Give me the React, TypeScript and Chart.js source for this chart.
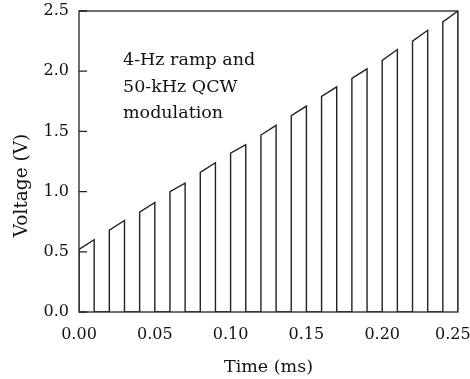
import React, { useEffect, useRef } from "react";
import { Chart, registerables } from "chart.js";

Chart.register(...registerables);

// Pulse data (time in ms, voltage in V)
const pulseStartTimes = [0.0, 0.02, 0.04, 0.06, 0.08, 0.1, 0.12, 0.14, 0.16, 0.18, 0.2, 0.22, 0.24];
const pulseEndTimes = [0.01, 0.03, 0.05, 0.07, 0.09, 0.11, 0.13, 0.15, 0.17, 0.19, 0.21, 0.23, 0.25];
const pulseStartVoltages = [0.52, 0.68, 0.83, 1.0, 1.16, 1.32, 1.47, 1.63, 1.79, 1.94, 2.09, 2.25, 2.41];
const pulseEndVoltages = [0.6, 0.76, 0.91, 1.07, 1.24, 1.39, 1.55, 1.71, 1.87, 2.02, 2.18, 2.34, 2.5];

const xTickValues = [0, 0.05, 0.1, 0.15, 0.2, 0.25];
const yTickValues = [0, 0.5, 1.0, 1.5, 2.0, 2.5];

const xTitle = "Time (ms)";
const yTitle = "Voltage (V)";
const annotationLines = ["4-Hz ramp and", "50-kHz QCW", "modulation"];

const FONT = "'DejaVu Serif', 'Liberation Serif', serif";
const INK = "#222222";

function buildPoints() {
  const pts: { x: number; y: number }[] = [];
  for (let i = 0; i < pulseStartTimes.length; i++) {
    pts.push({ x: pulseStartTimes[i], y: 0 });
    pts.push({ x: pulseStartTimes[i], y: pulseStartVoltages[i] });
    pts.push({ x: pulseEndTimes[i], y: pulseEndVoltages[i] });
    pts.push({ x: pulseEndTimes[i], y: 0 });
  }
  return pts;
}

const framePlugin = {
  id: "frameAndText",
  afterDraw(chart: any) {
    const { ctx, chartArea } = chart;
    const { left, right, top, bottom } = chartArea;
    const yScale = chart.scales.y;
    ctx.save();
    ctx.strokeStyle = INK;
    ctx.lineWidth = 1.3;
    ctx.strokeRect(left, top, right - left, bottom - top);
    // inward ticks on left axis
    ctx.beginPath();
    for (const v of yTickValues) {
      const py = yScale.getPixelForValue(v);
      ctx.moveTo(left, py);
      ctx.lineTo(left + 8, py);
    }
    ctx.stroke();

    // annotation text
    ctx.fillStyle = "#111";
    ctx.font = `17.5px ${FONT}`;
    ctx.textAlign = "left";
    ctx.textBaseline = "alphabetic";
    annotationLines.forEach((line, i) => {
      ctx.fillText(line, 123, 65 + i * 26.5);
    });

    // y-axis title
    ctx.translate(22, 185.5);
    ctx.rotate(-Math.PI / 2);
    ctx.textAlign = "center";
    ctx.textBaseline = "middle";
    ctx.font = `18.5px ${FONT}`;
    ctx.fillText(yTitle, 0, 0);
    ctx.restore();
  },
};

export default function App() {
  const canvasRef = useRef<HTMLCanvasElement | null>(null);

  useEffect(() => {
    document.body.style.margin = "0";
    const canvas = canvasRef.current;
    if (!canvas) return;
    const chart = new Chart(canvas, {
      type: "line",
      data: {
        datasets: [
          {
            data: buildPoints(),
            borderColor: INK,
            borderWidth: 1.4,
            pointRadius: 0,
            fill: false,
            tension: 0,
          },
        ],
      },
      options: {
        animation: false,
        responsive: false,
        maintainAspectRatio: false,
        layout: { padding: { left: 0, top: 11, right: 12, bottom: 0 } },
        plugins: {
          legend: { display: false },
          tooltip: { enabled: false },
        },
        scales: {
          x: {
            type: "linear",
            min: 0,
            max: 0.25,
            afterBuildTicks: (scale: any) => {
              scale.ticks = xTickValues.map((v) => ({ value: v }));
            },
            afterFit: (scale: any) => {
              scale.height = 67;
              scale.paddingLeft = 0;
              scale.paddingRight = 0;
            },
            grid: { display: false, drawTicks: false },
            border: { display: false },
            ticks: {
              padding: 13,
              color: "#111",
              font: { family: FONT, size: 16 },
              maxRotation: 0,
              callback: (v: any, i: number, ticks: any[]) => {
                const label = Number(v).toFixed(2);
                // keep the last label inside the canvas edge
                return i === ticks.length - 1 ? label + "\u00A0\u00A0" : label;
              },
            },
            title: {
              display: true,
              text: xTitle,
              color: "#111",
              font: { family: FONT, size: 17.5 },
              padding: { top: 0, bottom: 1 },
            },
          },
          y: {
            type: "linear",
            min: 0,
            max: 2.5,
            afterBuildTicks: (scale: any) => {
              scale.ticks = yTickValues.map((v) => ({ value: v }));
            },
            afterFit: (scale: any) => {
              scale.width = 79;
              scale.paddingTop = 0;
              scale.paddingBottom = 0;
            },
            grid: { display: false, drawTicks: false },
            border: { display: false },
            ticks: {
              padding: 10,
              color: "#111",
              font: { family: FONT, size: 16 },
              callback: (v: any) => Number(v).toFixed(1),
            },
          },
        },
      },
      plugins: [framePlugin],
    });
    return () => chart.destroy();
  }, []);

  return (
    <div style={{ width: 470, height: 379 }}>
      <canvas ref={canvasRef} width={470} height={379} style={{ display: "block" }} />
    </div>
  );
}
